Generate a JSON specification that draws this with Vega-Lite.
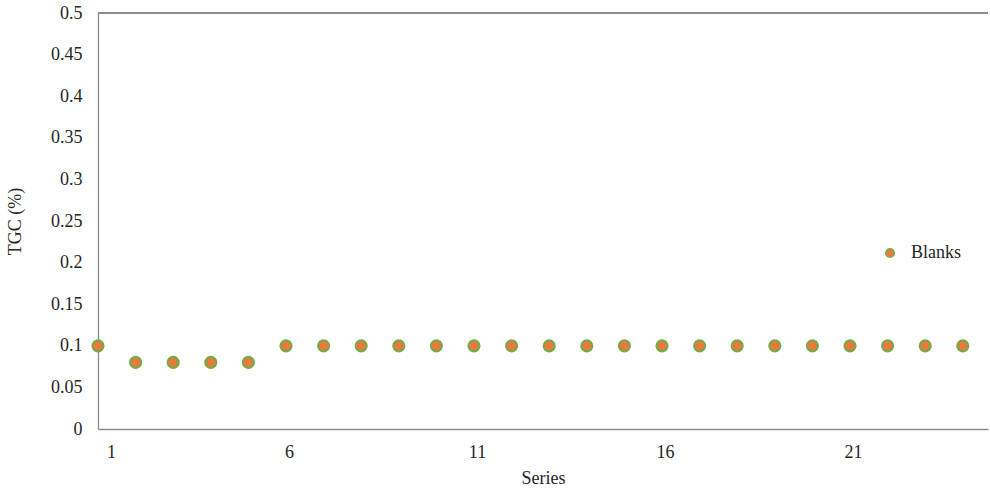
{
  "$schema": "https://vega.github.io/schema/vega-lite/v6.json",
  "autosize": {"type": "none"},
  "width": 890,
  "height": 416,
  "padding": {"left": 98, "top": 13, "right": 2, "bottom": 62},
  "background": "white",
  "config": {
    "view": {"stroke": null},
    "font": "Liberation Serif",
    "axis": {"labelFont": "Liberation Serif", "titleFont": "Liberation Serif", "labelColor": "#262626", "titleColor": "#262626", "titleFontWeight": "normal", "grid": false, "ticks": false, "domainColor": "#8c8c8c", "domainWidth": 1.3}
  },
  "data": {
    "values": [
      {"Series": 1, "TGC": 0.1},
      {"Series": 2, "TGC": 0.08},
      {"Series": 3, "TGC": 0.08},
      {"Series": 4, "TGC": 0.08},
      {"Series": 5, "TGC": 0.08},
      {"Series": 6, "TGC": 0.1},
      {"Series": 7, "TGC": 0.1},
      {"Series": 8, "TGC": 0.1},
      {"Series": 9, "TGC": 0.1},
      {"Series": 10, "TGC": 0.1},
      {"Series": 11, "TGC": 0.1},
      {"Series": 12, "TGC": 0.1},
      {"Series": 13, "TGC": 0.1},
      {"Series": 14, "TGC": 0.1},
      {"Series": 15, "TGC": 0.1},
      {"Series": 16, "TGC": 0.1},
      {"Series": 17, "TGC": 0.1},
      {"Series": 18, "TGC": 0.1},
      {"Series": 19, "TGC": 0.1},
      {"Series": 20, "TGC": 0.1},
      {"Series": 21, "TGC": 0.1},
      {"Series": 22, "TGC": 0.1},
      {"Series": 23, "TGC": 0.1},
      {"Series": 24, "TGC": 0.1}
    ]
  },
  "layer": [
    {
      "mark": {"type": "rule", "color": "#8c8c8c", "strokeWidth": 1.3},
      "encoding": {"y": {"datum": 0.5, "scale": {"domain": [0, 0.5]}}}
    },
    {
      "mark": {"type": "point", "filled": true, "shape": "circle", "size": 125, "stroke": "#70AD47", "strokeWidth": 2, "fill": "#E8793F", "opacity": 1, "strokeOpacity": 1, "fillOpacity": 1},
      "encoding": {
        "x": {"field": "Series", "type": "quantitative", "scale": {"domain": [1, 24.67], "nice": false, "zero": false},
              "axis": {"values": [1, 6, 11, 16, 21], "title": "Series", "labelFontSize": 18, "titleFontSize": 18, "labelPadding": 14, "titlePadding": 8, "labelFlush": false,
                       "labelOffset": {"condition": {"test": "datum.value === 1", "value": 13}, "value": 3}}},
        "y": {"field": "TGC", "type": "quantitative", "scale": {"domain": [0, 0.5], "nice": false},
              "axis": {"values": [0, 0.05, 0.1, 0.15, 0.2, 0.25, 0.3, 0.35, 0.4, 0.45, 0.5], "format": "~g", "title": "TGC (%)", "labelFontSize": 18, "titleFontSize": 18, "labelPadding": 16, "titlePadding": 26}},
        "color": {"datum": "Blanks", "type": "nominal", "scale": {"range": ["#E8793F"]},
                  "legend": {"title": null, "orient": "none", "legendX": 783, "legendY": 231, "labelFontSize": 18, "labelFont": "Liberation Serif", "labelColor": "#262626", "symbolType": "circle", "symbolSize": 75, "symbolStrokeColor": "#70AD47", "symbolStrokeWidth": 1.5, "symbolFillColor": "#E8793F", "labelOffset": 12}}
      }
    }
  ]
}
